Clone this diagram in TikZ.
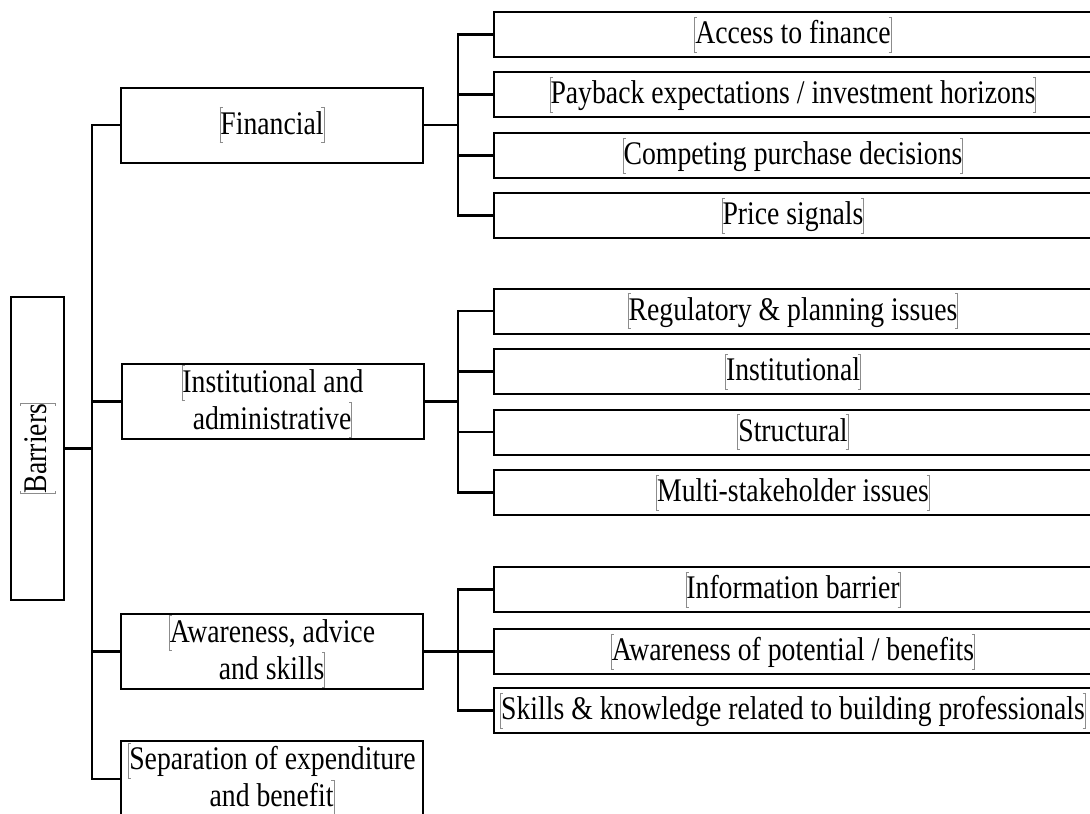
\documentclass[tikz,border=0pt]{standalone}
\usepackage{fontspec}
\setmainfont[FakeStretch=0.84]{Liberation Serif}
\newcommand\lbr{{\color{black!45}\rlap{\rule[-0.26em]{3pt}{0.8pt}}\rlap{\rule[0.80em]{3pt}{0.8pt}}\rule[-0.26em]{0.9pt}{1.09em}}}
\newcommand\rbr{{\color{black!45}\rule[-0.26em]{0.9pt}{1.09em}\llap{\rule[-0.26em]{3pt}{0.8pt}}\llap{\rule[0.80em]{3pt}{0.8pt}}}}
\tikzset{
  box/.style={draw=black, line width=2pt, rectangle, inner sep=0pt, align=center,
    font=\fontsize{33}{31}\selectfont},
  catbox/.style={box, minimum width=302pt, minimum height=75pt},
  leafbox/.style={box, minimum width=598pt, minimum height=45pt, anchor=west},
  conn/.style={draw=black, line width=2.2pt},
  link/.style={draw=black, line width=2.8pt},
}
\begin{document}
\begin{tikzpicture}[x=1pt, y=-1pt]
\useasboundingbox (0,0) rectangle (1090,814);
\clip (0,0) rectangle (1090,814);
\fill[white] (0,0) rectangle (1090,814);

% root
\node[box, minimum width=53pt, minimum height=303pt] (bar) at (37.5,448.5) {\rotatebox{90}{\lbr Barriers\rbr}};

% categories
\node[catbox] (fin) at (272,125) {\lbr Financial\rbr};
\node[catbox] (ins) at (272.5,401.5) {\lbr Institutional and\\administrative\rbr};
\node[catbox] (awa) at (272,651.5) {\lbr Awareness, advice\\and skills\rbr};
\node[catbox, minimum height=76pt] (sep) at (272,779) {\lbr Separation of expenditure\\and benefit\rbr};

% leaves: financial
\node[leafbox] (f1) at (493,34.5) {\lbr Access to finance\rbr};
\node[leafbox] (f2) at (493,94.5) {\lbr Payback expectations / investment horizons\rbr};
\node[leafbox] (f3) at (493,155.5) {\lbr Competing purchase decisions\rbr};
\node[leafbox] (f4) at (493,215.5) {\lbr Price signals\rbr};
% leaves: institutional
\node[leafbox] (i1) at (493,311) {\lbr Regulatory \& planning issues\rbr};
\node[leafbox] (i2) at (493,371.5) {\lbr Institutional\rbr};
\node[leafbox] (i3) at (493,432) {\lbr Structural\rbr};
\node[leafbox] (i4) at (493,492.5) {\lbr Multi-stakeholder issues\rbr};
% leaves: awareness
\node[leafbox] (a1) at (493,589.5) {\lbr Information barrier\rbr};
\node[leafbox] (a2) at (493,651.5) {\lbr Awareness of potential / benefits\rbr};
\node[leafbox] (a3) at (493,710.5) {\lbr Skills \& knowledge related to building professionals\rbr};

% trunk coordinates
\coordinate (t) at (92,448.5);
\coordinate (s) at (458,0);

% main trunk
\draw[link] (bar.east) -- (t);
\draw[conn] (fin.west) -- (fin.west -| t) -- (sep.west -| t) -- (sep.west);
\draw[conn] (ins.west) -- (ins.west -| t);
\draw[conn] (awa.west) -- (awa.west -| t);

% financial group
\draw[link] (fin.east) -- (fin.east -| s);
\draw[conn] (f1.west) -- (f1.west -| s) -- (f4.west -| s) -- (f4.west);
\draw[conn] (f2.west) -- (f2.west -| s);
\draw[conn] (f3.west) -- (f3.west -| s);

% institutional group
\draw[link] (ins.east) -- (ins.east -| s);
\draw[conn] (i1.west) -- (i1.west -| s) -- (i4.west -| s) -- (i4.west);
\draw[conn] (i2.west) -- (i2.west -| s);
\draw[conn] (i3.west) -- (i3.west -| s);

% awareness group
\draw[link] (awa.east) -- (awa.east -| s);
\draw[conn] (a1.west) -- (a1.west -| s) -- (a3.west -| s) -- (a3.west);
\draw[conn] (a2.west) -- (a2.west -| s);
\end{tikzpicture}
\end{document}
